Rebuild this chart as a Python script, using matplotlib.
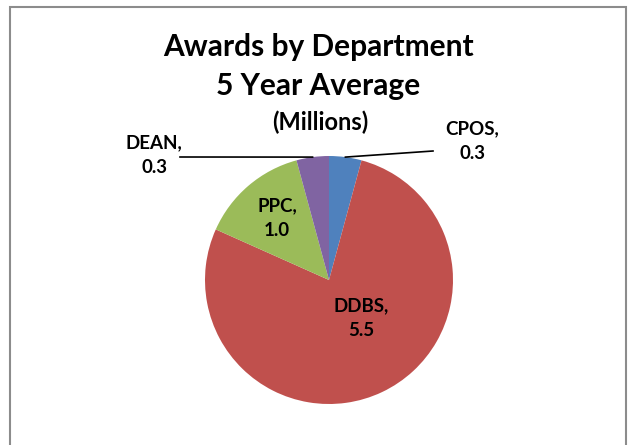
import numpy as np
import matplotlib
matplotlib.use("Agg")
import matplotlib.pyplot as plt
from matplotlib.patches import Rectangle

# Chart data (millions, 5 year average)
departments = ['CPOS', 'DDBS', 'PPC', 'DEAN']
awards = [0.3, 5.5, 1.0, 0.3]
colors = ['#4F81BD', '#C0504D', '#9BBB59', '#8064A2']

plt.rcParams['font.family'] = ['Lato', 'DejaVu Sans']

W, H = 632, 445
fig = plt.figure(figsize=(W / 100, H / 100), dpi=100)
ax = fig.add_axes([0, 0, 1, 1])

# outer chart border (bottom edge is cut off in the reference)
ax.add_patch(Rectangle((10, -5), 616, H - 7 + 5, fill=False,
                       edgecolor='#8c8c8c', linewidth=1.5))

cx, cy, r = 329, H - 280, 124
wedges, _ = ax.pie(awards, colors=colors, startangle=90, counterclock=False,
                   center=(cx, cy), radius=r, frame=True)
ax.set_xlim(0, W)
ax.set_ylim(0, H)
ax.set_aspect('equal')
ax.axis('off')

# titles
ax.text(318, H - 47, 'Awards by Department', ha='center', va='center',
        fontsize=21.5, fontweight='bold')
ax.text(318, H - 86, '5 Year Average', ha='center', va='center',
        fontsize=21.5, fontweight='bold')
ax.text(320, H - 122, '(Millions)', ha='center', va='center',
        fontsize=17, fontweight='bold')

# data labels
lbl = dict(ha='center', va='center', fontsize=13.5, fontweight='bold',
           linespacing=1.55)
ax.text(472, H - 141, f'{departments[0]},\n{awards[0]:.1f}', **lbl)
ax.text(361, H - 318, f'{departments[1]},\n{awards[1]:.1f}', **lbl)
ax.text(277, H - 218, f'{departments[2]},\n{awards[2]:.1f}', **lbl)
ax.text(154, H - 155, f'{departments[3]},\n{awards[3]:.1f}', **lbl)

# leader lines for the small slices
for w, end in [(wedges[0], (433, H - 151)), (wedges[3], (180, H - 157))]:
    mid = np.deg2rad((w.theta1 + w.theta2) / 2)
    x0, y0 = cx + r * np.cos(mid), cy + r * np.sin(mid)
    ax.plot([x0, end[0]], [y0, end[1]], color='black', linewidth=1.2)

fig.savefig('out.png', dpi=100)
